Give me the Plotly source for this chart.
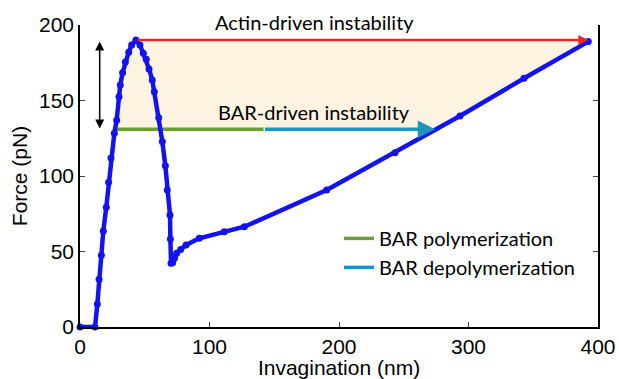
import plotly.graph_objects as go

# Force-extension curve (Invagination nm, Force pN)
inv_nm = [0, 11.6, 13.4, 14.7, 16.5, 18.0, 20.3, 22.1, 23.9, 26.5, 28.3, 30.1, 31.1, 32.9,
          35.0, 37.6, 39.9, 43.2, 46.3, 48.9, 51.2, 53.3, 55.8, 57.4, 60.8, 63.6, 65.9,
          67.4, 69.5, 69.8, 70.3, 71.5, 73.0, 74.6, 77.7, 81.9, 92.1, 111.4, 126.9,
          190.5, 243.2, 293.4, 342.9, 392.5]
force_pN = [0, 0, 15.2, 31.6, 47.5, 63.6, 79.3, 95.8, 111.9, 128.3, 137.0, 152.5, 160.3, 168.4,
            175.5, 182.0, 186.8, 190.0, 186.8, 181.3, 177.3, 170.9, 163.6, 155.8, 138.6, 122.7, 106.8,
            90.7, 74.2, 58.3, 42.2, 42.5, 45.5, 48.8, 51.4, 54.3, 58.7, 63.1, 66.4,
            90.7, 115.4, 139.7, 164.7, 189.0]

peak_force = 190.0
bar_force = 131.0
bar_poly_x = [26.3, 141.7]
bar_depoly_x = [141.7, 274.3]
double_arrow_x = 15.2
double_arrow_y = [130.5, 189.0]

xticks = [0, 100, 200, 300, 400]
yticks = [0, 50, 100, 150, 200]

blue = "rgb(18,18,242)"
green = "#6B9E3A"
cyan = "#1B93BD"
red = "#E8291C"
fill_col = "#FCF3E1"

# ---- build shaded region from the data ----
def crossing(xa, ya, xb, yb, yv):
    return xa + (yv - ya) / (yb - ya) * (xb - xa)

ipeak = force_pN.index(max(force_pN))
rise = [(x, y) for x, y in zip(inv_nm[:ipeak + 1], force_pN[:ipeak + 1])]
fx, fy = [], []
for i in range(1, len(rise)):
    if rise[i - 1][1] < bar_force <= rise[i][1]:
        fx.append(crossing(rise[i-1][0], rise[i-1][1], rise[i][0], rise[i][1], bar_force))
        fy.append(bar_force)
        for x, y in rise[i:]:
            fx.append(x); fy.append(y)
        break
fx.append(inv_nm[-1]); fy.append(peak_force)
ramp_start = 38  # index where the long ramp starts
tail = list(zip(inv_nm, force_pN))[ramp_start:][::-1]
for i in range(len(tail)):
    x, y = tail[i]
    if y >= bar_force:
        fx.append(x); fy.append(y)
    else:
        px_, py_ = tail[i - 1]
        fx.append(crossing(x, y, px_, py_, bar_force)); fy.append(bar_force)
        break
fx.append(fx[0]); fy.append(fy[0])

fig = go.Figure()
fig.add_trace(go.Scatter(x=fx, y=fy, fill="toself", fillcolor=fill_col, line=dict(width=0),
                         mode="lines", showlegend=False, hoverinfo="skip"))
fig.add_trace(go.Scatter(x=bar_poly_x, y=[bar_force, bar_force], mode="lines",
                         line=dict(color=green, width=3.5), name="BAR polymerization"))
fig.add_trace(go.Scatter(x=[None], y=[None], mode="lines",
                         line=dict(color=cyan, width=3.5), name="BAR depolymerization"))
fig.add_trace(go.Scatter(x=inv_nm, y=force_pN, mode="lines+markers",
                         line=dict(color=blue, width=4.5), marker=dict(color=blue, size=7),
                         showlegend=False, cliponaxis=False))

ann_font = dict(family="Lato", size=20, color="black")
fig.add_annotation(x=bar_depoly_x[1], y=bar_force, ax=bar_depoly_x[0], ay=bar_force,
                   xref="x", yref="y", axref="x", ayref="y", text="", showarrow=True,
                   arrowhead=2, arrowsize=1, arrowwidth=3.5, arrowcolor=cyan)
fig.add_annotation(x=inv_nm[-1], y=peak_force, ax=inv_nm[ipeak], ay=peak_force,
                   xref="x", yref="y", axref="x", ayref="y", text="", showarrow=True,
                   arrowhead=2, arrowsize=0.8, arrowwidth=2.5, arrowcolor=red)
fig.add_annotation(x=double_arrow_x, y=double_arrow_y[1], ax=double_arrow_x, ay=double_arrow_y[0],
                   xref="x", yref="y", axref="x", ayref="y", text="", showarrow=True,
                   arrowhead=2, arrowside="end+start", arrowsize=1.2, arrowwidth=1.5, arrowcolor="black")
fig.add_annotation(x=180.8, y=1.01, xref="x", yref="paper", yanchor="middle",
                   text="Actin-driven instability", showarrow=False, font=ann_font)
fig.add_annotation(x=180.8, y=142.6, xref="x", yref="y", text="BAR-driven instability",
                   showarrow=False, font=ann_font)

axis_font = dict(family="Liberation Sans", size=21, color="black")
fig.update_layout(
    width=619, height=379,
    margin=dict(l=80, r=21, t=25, b=52),
    paper_bgcolor="white", plot_bgcolor="white",
    showlegend=True,
    legend=dict(x=0.5, y=0.358, xanchor="left", yanchor="top", bgcolor="rgba(0,0,0,0)",
                font=dict(family="Lato", size=20, color="black"), tracegroupgap=0,
                itemwidth=30),
    xaxis=dict(range=[0, 400], tickvals=xticks, ticks="inside", ticklen=5, tickwidth=1,
               showline=True, linecolor="black", linewidth=1.5, mirror=False, showgrid=False,
               zeroline=False, tickfont=axis_font, automargin=False,
               title=dict(text="Invagination (nm)", font=axis_font, standoff=3)),
    yaxis=dict(range=[0, 200], tickvals=yticks, ticks="inside", ticklen=5, tickwidth=1,
               showline=True, linecolor="black", linewidth=1.5, mirror="ticks", showgrid=False,
               zeroline=False, tickfont=axis_font, automargin=False,
               title=dict(text="Force (pN)", font=axis_font, standoff=6)),
)

fig.write_html("out.html")
